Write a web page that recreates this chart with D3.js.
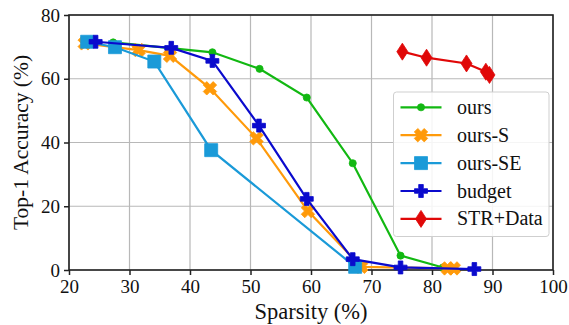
<!DOCTYPE html>
<html><head><meta charset="utf-8">
<script src="https://cdn.jsdelivr.net/npm/d3@7"></script>
<style>body{margin:0;background:#fff}svg{display:block}</style>
</head><body><svg id="c" width="569" height="325"></svg>
<script>
const xTicks = [20,30,40,50,60,70,80,90,100];
const yTicks = [0,20,40,60,80];
const seriesNames = ["ours","ours-S","ours-SE","budget","STR+Data"];
const oursX = [27.3,43.7,51.5,59.3,66.9,74.8,81.8];
const oursY = [71.4,68.3,63.1,54.1,33.5,4.5,0.8];
const oursSX = [22.6,31.5,36.7,43.3,51.0,59.5,68.3,82.6,83.6];
const oursSY = [71.1,69.0,67.2,57.0,41.3,18.5,1.0,0.5,0.5];
const oursSEX = [23.0,27.6,34.1,43.5,67.3];
const oursSEY = [71.6,69.9,65.4,37.6,1.0];
const budgetX = [24.4,36.9,43.7,51.4,59.3,66.9,74.8,87.0];
const budgetY = [71.6,69.7,65.6,45.3,22.3,3.4,0.8,0.3];
const strX = [75.1,79.1,85.7,88.9,89.5];
const strY = [68.5,66.6,64.8,62.2,61.2];
const colors = ["#12b812","#ff9a0a","#1a9ad8","#0a0acd","#e00808"];
const markers = ["circle","X","square","P","diamond"];

const FONT = "'Liberation Serif', 'Times New Roman', Times, 'DejaVu Serif', serif";
const svg = d3.select("#c").attr("font-family",FONT);
const L=69,R=553,T=15,B=270;
const x = d3.scaleLinear().domain([20,100]).range([L,R]);
const y = d3.scaleLinear().domain([0,80]).range([B,T]);

// grid
svg.append("g").selectAll("line").data(xTicks).join("line")
  .attr("x1",d=>x(d)).attr("x2",d=>x(d)).attr("y1",T).attr("y2",B)
  .attr("stroke","#b8b8b8").attr("stroke-width",1.2);
svg.append("g").selectAll("line").data(yTicks).join("line")
  .attr("y1",d=>y(d)).attr("y2",d=>y(d)).attr("x1",L).attr("x2",R)
  .attr("stroke","#b8b8b8").attr("stroke-width",1.2);

// axes
const xa = svg.append("g").attr("transform",`translate(0,${B})`)
  .call(d3.axisBottom(x).tickValues(xTicks).tickSize(5).tickPadding(5).tickFormat(d3.format("d")));
const ya = svg.append("g").attr("transform",`translate(${L},0)`)
  .call(d3.axisLeft(y).tickValues(yTicks).tickSize(5).tickPadding(4).tickFormat(d3.format("d")));
[xa,ya].forEach(g=>{
  g.attr("font-family",FONT).attr("font-size",19);
  g.select(".domain").remove();
  g.selectAll("line").attr("stroke","#222").attr("stroke-width",1.5);
  g.selectAll("text").attr("fill","#111");
});
svg.append("rect").attr("x",L).attr("y",T).attr("width",R-L).attr("height",B-T)
  .attr("fill","none").attr("stroke","#222").attr("stroke-width",1.6);

svg.append("text").attr("x",(L+R)/2).attr("y",319).attr("text-anchor","middle")
  .attr("font-size",22.5).attr("fill","#111").text("Sparsity (%)");
svg.append("text").attr("transform",`translate(28,${(T+B)/2}) rotate(-90)`).attr("text-anchor","middle")
  .attr("font-size",21.5).attr("fill","#111").text("Top-1 Accuracy (%)");

function markerPath(type){
  if(type==="circle") return d3.symbol(d3.symbolCircle,40)();
  if(type==="square"){const h=6.5;return `M${-h},${-h}H${h}V${h}H${-h}Z`;}
  if(type==="diamond"){const w=5.5,h=8.5;return `M0,${-h}L${w},0L0,${h}L${-w},0Z`;}
  const h=6.5,a=2.3;
  let pts=[[-a,-h],[a,-h],[a,-a],[h,-a],[h,a],[a,a],[a,h],[-a,h],[-a,a],[-h,a],[-h,-a],[-a,-a]];
  if(type==="X"){const c=Math.SQRT1_2;pts=pts.map(([p,q])=>[(p-q)*c*1.08,(p+q)*c*1.08]);}
  return "M"+pts.map(p=>p.join(",")).join("L")+"Z";
}

const data = [[oursX,oursY],[oursSX,oursSY],[oursSEX,oursSEY],[budgetX,budgetY],[strX,strY]];
const line = d3.line().x(d=>x(d[0])).y(d=>y(d[1]));
data.forEach(([xs,ys],i)=>{
  const pts = xs.map((v,j)=>[v,ys[j]]);
  const g = svg.append("g");
  g.append("path").attr("d",line(pts)).attr("fill","none").attr("stroke",colors[i]).attr("stroke-width",2.2);
  g.selectAll("path.m").data(pts).join("path").attr("class","m")
    .attr("transform",d=>`translate(${x(d[0])},${y(d[1])})`)
    .attr("d",markerPath(markers[i])).attr("fill",colors[i]).attr("stroke",colors[i]).attr("stroke-width",0.8);
});

// legend
const lg = svg.append("g");
lg.append("rect").attr("x",393.5).attr("y",92).attr("width",155.5).attr("height",144.5).attr("rx",3)
  .attr("fill","#fff").attr("fill-opacity",0.85).attr("stroke","#cfcfcf").attr("stroke-width",1);
seriesNames.forEach((n,i)=>{
  const yy = 107.3 + i*27.9;
  lg.append("line").attr("x1",400.5).attr("x2",441.5).attr("y1",yy).attr("y2",yy)
    .attr("stroke",colors[i]).attr("stroke-width",2.2);
  lg.append("path").attr("transform",`translate(421,${yy})`).attr("d",markerPath(markers[i]))
    .attr("fill",colors[i]).attr("stroke",colors[i]).attr("stroke-width",0.8);
  lg.append("text").attr("x",457).attr("y",yy+6.5).attr("font-size",20).attr("fill","#111").text(n);
});
</script></body></html>
